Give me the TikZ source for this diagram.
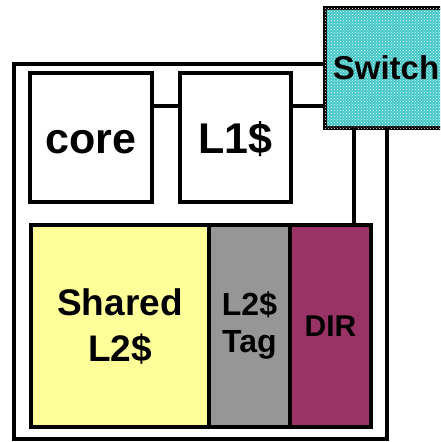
\documentclass[tikz,border=0pt]{standalone}
\usepackage{fontspec}
\setmainfont{Liberation Sans Bold}
\usetikzlibrary{positioning, patterns}
\definecolor{switchcyan}{RGB}{70,200,200}
\definecolor{l2yellow}{RGB}{255,255,153}
\definecolor{taggray}{RGB}{150,150,150}
\definecolor{dirred}{RGB}{153,51,102}
\tikzstyle{block} = [
    rectangle, outer sep=0pt,
    text centered, align=center,
    draw=black, line width=3.3pt, fill=white
]
\tikzstyle{wire} = [line width=4.5pt]

\begin{document}
\begin{tikzpicture}[x=1pt, y=-1pt]
        \clip (0,0) rectangle (440,442);
        % Draw blocks
        \node (core) [block, minimum width=122pt, minimum height=129pt,
            text height=32pt, text depth=0pt,
            font=\fontsize{43}{46}\selectfont] at (91,137.5) {core};
        \node (l1) [block, right=28pt of core, minimum width=111pt, minimum height=129pt,
            text height=32pt, text depth=0pt,
            font=\fontsize{43}{46}\selectfont] {L1\$};
        \node (switch) [block, minimum width=122pt, minimum height=120pt,
            fill=switchcyan, postaction={pattern=crosshatch dots, pattern color=white!85!switchcyan},
            font=\fontsize{33}{36}\selectfont] at (386,68) {Switch};
        \node (shared) [block, minimum width=178pt, minimum height=202pt, fill=l2yellow,
            font=\fontsize{37}{46}\selectfont] at (120,326) {Shared\\L2\$};
        \node (tag) [block, right=0pt of shared, minimum width=81pt, minimum height=202pt,
            fill=taggray, font=\fontsize{32}{37}\selectfont] {L2\$\\Tag};
        \node (dir) [block, right=0pt of tag, minimum width=81pt, minimum height=202pt,
            fill=dirred, font=\fontsize{30}{34}\selectfont] {DIR};
        \coordinate (tl) at (14,64);
        \coordinate (br) at (387,439);

        % Draw wires
        \draw [wire] ([yshift=31.5pt]core.east) -- ([yshift=31.5pt]l1.west);
        \draw [wire] ([yshift=31.5pt]l1.east) -- ([yshift=31.5pt]l1.east -| switch.west);
        \draw [wire] ([xshift=23.5pt]dir.north) -- ([xshift=23.5pt]dir.north |- switch.south);
        \draw [wire] (switch.west |- tl) -- (tl) -- (tl |- br) -- (br) -- (br |- switch.south);
    \end{tikzpicture}
\end{document}
